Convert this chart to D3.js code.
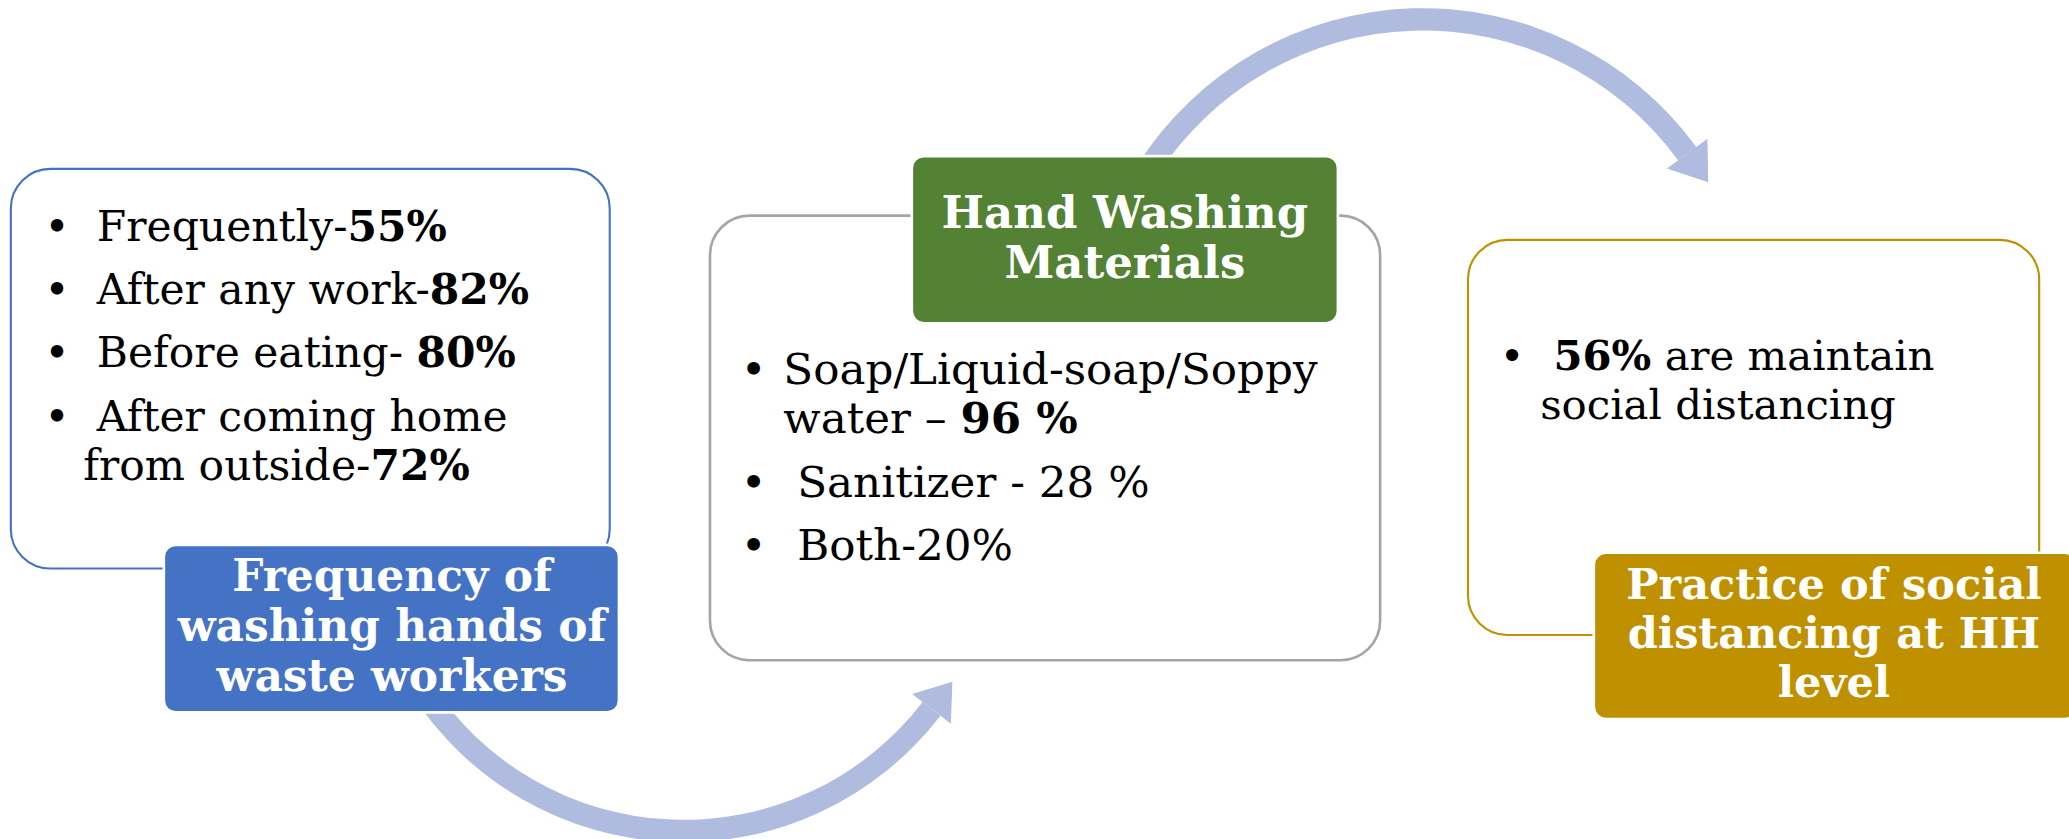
<!DOCTYPE html>
<html>
<head>
<meta charset="utf-8">
<script src="https://cdn.jsdelivr.net/npm/d3@7"></script>
<style>
  html, body { margin: 0; padding: 0; background: #fff; overflow: hidden; }
</style>
</head>
<body>
<div id="chart"></div>
<script>
// panel titles and bullet items, **text** = bold, \n = wrapped line
var panelTitles = [
    "Frequency of\nwashing hands of\nwaste workers",
    "Hand Washing\nMaterials",
    "Practice of social\ndistancing at HH\nlevel"
];
var freqItems = [
    " Frequently-**55%**",
    " After any work-**82%**",
    " Before eating- **80%**",
    " After coming home\nfrom outside-**72%**"
];
var materialItems = [
    "Soap/Liquid-soap/Soppy\nwater – **96 %**",
    " Sanitizer - 28 %",
    " Both-20%"
];
var distancingItems = [
    " **56%** are maintain\nsocial distancing"
];
var panelItems = [freqItems, materialItems, distancingItems];

// layout, drawn in a 1568x636 frame scaled up to the window
var W = 1568, H = 636;
var font = "'DejaVu Serif', 'Liberation Serif', serif";
var arrowColor = "#afbcdf";

var layout = [
    {box: {x: 8, y: 128, w: 454, h: 303}, stroke: "#4472C4", sw: 1.6,
     label: {x: 124, y: 413, w: 345, h: 127}, fill: "#4472C4",
     titleX: 297, titleY: 447.7, titleGap: 38, titleWidth: 325,
     bulletX: 43, textX: 63, firstY: 182.4, textWidth: 338},
    {box: {x: 538, y: 163.5, w: 508, h: 337}, stroke: "#A5A5A5", sw: 2,
     label: {x: 691, y: 118.4, w: 323, h: 126.6}, fill: "#548235",
     titleX: 852.5, titleY: 173.2, titleGap: 37.4, titleWidth: 278,
     bulletX: 571, textX: 593.6, firstY: 291, textWidth: 405},
    {box: {x: 1112.6, y: 181.8, w: 433, h: 299.6}, stroke: "#BF9000", sw: 1.6,
     label: {x: 1208, y: 419, w: 366, h: 126}, fill: "#BF9000",
     titleX: 1390, titleY: 454, titleGap: 37, titleWidth: 315,
     bulletX: 1146, textX: 1167.3, firstY: 280.3, textWidth: 299}
];
var itemGap = 48, lineGap = 37.5;

var arrows = [
    {cx: 518, cy: 393, r: 237, w: 17, from: 4.142, to: 2.226, dir: -1, headLen: 26, headHalf: 18.5},
    {cx: 1078.5, cy: 262.7, r: 248, w: 17, from: -1.006, to: 0.940, dir: 1, headLen: 27, headHalf: 19}
];

var svg = d3.select("#chart").append("svg")
    .attr("width", 2069)
    .attr("height", 839)
    .attr("viewBox", "0 0 " + W + " " + H)
    .style("display", "block");

// outline boxes
svg.selectAll(".box")
    .data(layout)
    .enter().append("rect")
    .attr("class", "box")
    .attr("x", function(d) { return d.box.x; })
    .attr("y", function(d) { return d.box.y; })
    .attr("width", function(d) { return d.box.w; })
    .attr("height", function(d) { return d.box.h; })
    .attr("rx", 30)
    .attr("fill", "#fff")
    .attr("stroke", function(d) { return d.stroke; })
    .attr("stroke-width", function(d) { return d.sw; });

// curved arrows: arc shaft + triangle head
var arc = d3.arc();
arrows.forEach(function(a) {
    svg.append("path")
        .attr("transform", "translate(" + a.cx + "," + a.cy + ")")
        .attr("d", arc({
            innerRadius: a.r - a.w / 2,
            outerRadius: a.r + a.w / 2,
            startAngle: Math.min(a.from, a.to),
            endAngle: Math.max(a.from, a.to)
        }))
        .attr("fill", arrowColor);

    var t = a.to;
    var bx = a.cx + a.r * Math.sin(t), by = a.cy - a.r * Math.cos(t);
    var nx = Math.sin(t), ny = -Math.cos(t);
    var tx = a.dir * Math.cos(t), ty = a.dir * Math.sin(t);
    var head = [
        [bx + a.headHalf * nx, by + a.headHalf * ny],
        [bx + a.headLen * tx, by + a.headLen * ty],
        [bx - a.headHalf * nx, by - a.headHalf * ny]
    ];
    svg.append("path")
        .attr("d", d3.line()(head) + "Z")
        .attr("fill", arrowColor);
});

// coloured title labels
svg.selectAll(".label")
    .data(layout)
    .enter().append("rect")
    .attr("class", "label")
    .attr("x", function(d) { return d.label.x; })
    .attr("y", function(d) { return d.label.y; })
    .attr("width", function(d) { return d.label.w; })
    .attr("height", function(d) { return d.label.h; })
    .attr("rx", 9)
    .attr("fill", function(d) { return d.fill; })
    .attr("stroke", "#fff")
    .attr("stroke-width", 2);

function addRich(textSel, str) {
    str.split("**").forEach(function(part, i) {
        if (!part) return;
        textSel.append("tspan")
            .attr("font-weight", i % 2 ? "bold" : "normal")
            .text(part);
    });
}

// shrink / grow a group's font so that its widest line hits the target width
function fit(g, base, target) {
    var widest = 0;
    g.selectAll("text.line").each(function() {
        widest = Math.max(widest, this.getComputedTextLength());
    });
    if (widest > 0) g.attr("font-size", base * target / widest);
}

layout.forEach(function(p, i) {
    // title
    var tg = svg.append("g")
        .attr("font-family", font)
        .attr("font-weight", "bold")
        .attr("font-size", 32)
        .attr("fill", "#fff")
        .attr("text-anchor", "middle");
    panelTitles[i].split("\n").forEach(function(line, k) {
        tg.append("text")
            .attr("class", "line")
            .attr("x", p.titleX)
            .attr("y", p.titleY + k * p.titleGap)
            .text(line);
    });
    fit(tg, 32, p.titleWidth);

    // bullets
    var bg = svg.append("g")
        .attr("font-family", font)
        .attr("font-size", 32)
        .attr("fill", "#000");
    var y = p.firstY;
    panelItems[i].forEach(function(item, j) {
        if (j > 0) y += itemGap;
        bg.append("text")
            .attr("x", p.bulletX)
            .attr("y", y)
            .attr("text-anchor", "middle")
            .text("\u2022");
        item.split("\n").forEach(function(line, k) {
            if (k > 0) y += lineGap;
            var t = bg.append("text")
                .attr("class", "line")
                .attr("xml:space", "preserve")
                .style("white-space", "pre")
                .attr("x", p.textX)
                .attr("y", y);
            addRich(t, line);
        });
    });
    fit(bg, 32, p.textWidth);
});
</script>
</body>
</html>
